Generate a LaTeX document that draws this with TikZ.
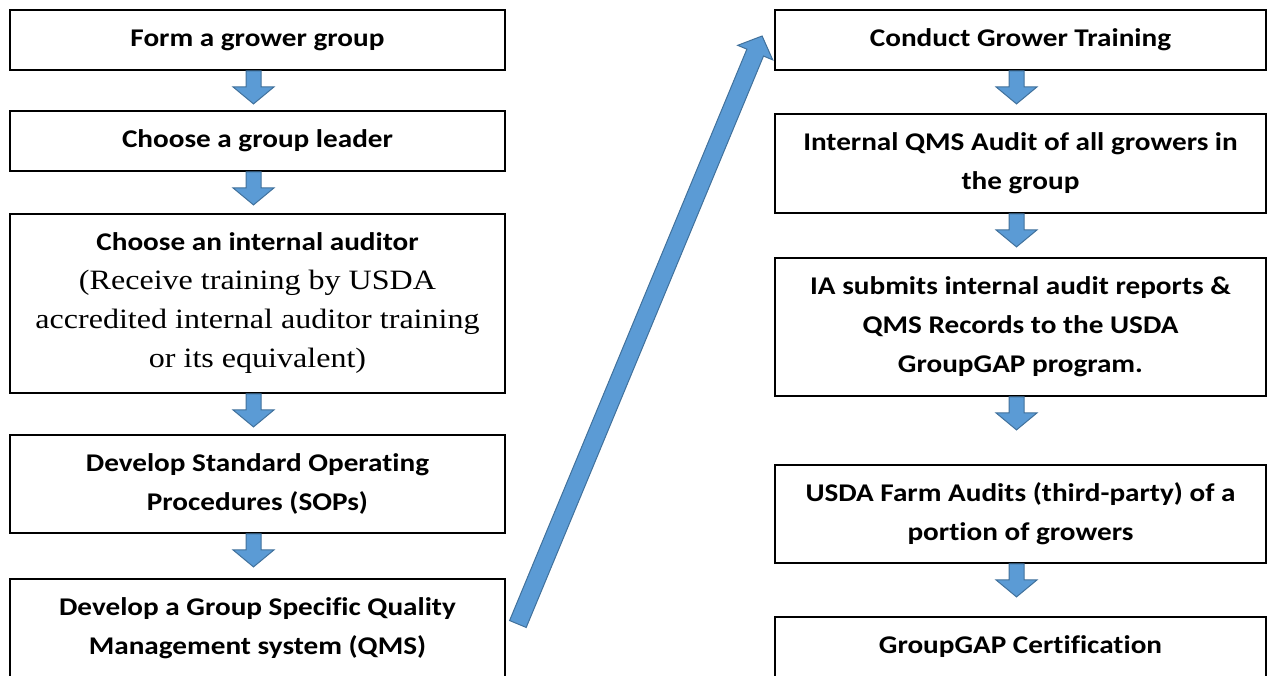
\documentclass[tikz,border=0pt]{standalone}
\usepackage{fontspec}
\setmainfont{Carlito}[FakeStretch=1.145,Ligatures=NoCommon]
\newfontfamily\timesrm{Liberation Serif}[FakeStretch=1.145]
\usetikzlibrary{calc}
\definecolor{arrowblue}{HTML}{5B9BD5}
\definecolor{arrowedge}{HTML}{41719C}
\newcommand{\auditnote}{\timesrm\mdseries\fontsize{28}{39}\selectfont}
% block arrow: from, to, half shaft, half head, head length
\newcommand{\blockarrow}[5]{%
  \coordinate (hb) at ($(#2)!#5!(#1)$);
  \filldraw[fill=arrowblue,draw=arrowedge,line width=1pt]
    ($(#1)!#3!90:(#2)$) -- ($(hb)!#3!90:(#2)$) -- ($(hb)!#4!90:(#2)$) -- (#2)
    -- ($(hb)!#4!-90:(#2)$) -- ($(hb)!#3!-90:(#2)$) -- ($(#1)!#3!-90:(#2)$) -- cycle;}
\newcommand{\stepdown}[1]{%
  \coordinate (#1-top) at ($(#1.south)+(-4,0)$);
  \coordinate (#1-tip) at ($(#1.south)+(-4,33)$);
  \blockarrow{#1-top}{#1-tip}{7.5pt}{20.5pt}{17pt}}
\begin{document}
\begin{tikzpicture}[x=1pt,y=-1pt,
    stepbox/.style={draw,line width=1.8pt,minimum width=495pt,inner sep=0pt,align=center,
      font=\fontsize{25.5}{39}\selectfont\bfseries}]
    \useasboundingbox (0,0) rectangle (1268,676);
    % left column
    \node[stepbox,minimum height=60pt] (form) at (257.5,40) {Form a grower group};
    \node[stepbox,minimum height=60pt] (leader) at (257.5,141) {Choose a group leader};
    \node[stepbox,minimum height=179pt] (auditor) at (257.5,303.5) {Choose an internal auditor\\
        \auditnote (Receive training by USDA\\ \auditnote accredited internal auditor training\\
        \auditnote or its equivalent)};
    \node[stepbox,minimum height=98pt] (sops) at (257.5,484) {Develop Standard Operating\\Procedures (SOPs)};
    \node[stepbox,minimum height=98pt] (qms) at (257.5,628) {Develop a Group Specific Quality\\Management system (QMS)};
    % right column
    \node[stepbox,minimum width=491pt,minimum height=60pt] (train) at (1020.5,40) {Conduct Grower Training};
    \node[stepbox,minimum width=491pt,minimum height=99pt] (internal) at (1020.5,163.5) {Internal QMS Audit of all growers in\\the group};
    \node[stepbox,minimum width=491pt,minimum height=138pt] (submit) at (1020.5,327) {IA submits internal audit reports \&\\QMS Records to the USDA\\GroupGAP program.};
    \node[stepbox,minimum width=491pt,minimum height=98pt] (farm) at (1020.5,514) {USDA Farm Audits (third-party) of a\\portion of growers};
    \node[stepbox,minimum width=491pt,minimum height=60pt] (cert) at (1020.5,647) {GroupGAP Certification};
    \stepdown{form} \stepdown{leader} \stepdown{auditor} \stepdown{sops}
    \stepdown{train} \stepdown{internal} \stepdown{submit} \stepdown{farm}
    % across to the second column
    \coordinate (qms-out) at ($(qms.east)+(12,-4)$);
    \coordinate (train-in) at ($(train.west)+(-12,-4)$);
    \blockarrow{qms-out}{train-in}{9pt}{19pt}{18pt}
\end{tikzpicture}
\end{document}
